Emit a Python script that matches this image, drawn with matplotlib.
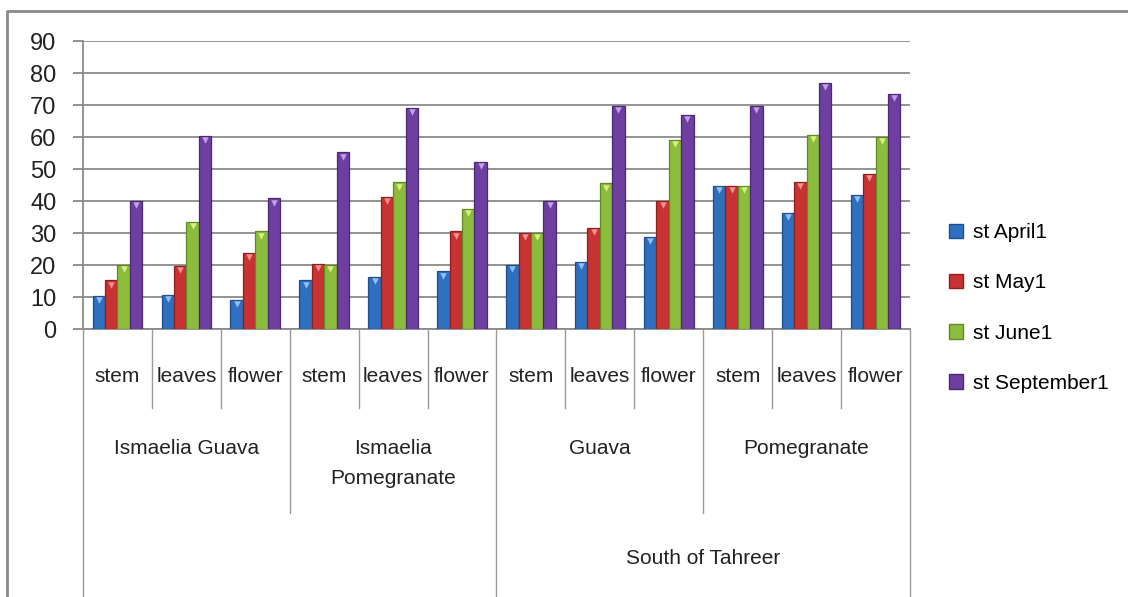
import matplotlib
matplotlib.use("Agg")
import matplotlib.pyplot as plt
import numpy as np
from matplotlib import transforms
from matplotlib.lines import Line2D
from matplotlib.patches import Patch

# data
parts = ["stem", "leaves", "flower"] * 4
groups = ["Ismaelia Guava", "Ismaelia\nPomegranate", "Guava", "Pomegranate"]
regions = ["", "South of Tahreer"]
series = ["st April1", "st May1", "st June1", "st September1"]
april = [10.4, 10.7, 9.0, 15.2, 16.2, 18.0, 20.1, 20.9, 28.9, 44.8, 36.2, 41.9]
may = [15.2, 19.6, 23.9, 20.3, 41.2, 30.5, 30.0, 31.7, 39.9, 44.8, 46.0, 48.5]
june = [20.1, 33.4, 30.5, 20.1, 45.8, 37.6, 30.0, 45.5, 59.1, 44.6, 60.7, 60.1]
september = [40.0, 60.4, 40.8, 55.2, 69.0, 52.2, 39.9, 69.7, 66.9, 69.7, 77.0, 73.4]

colors = ["#2f6fc0", "#c83232", "#8cbc3c", "#6e3fa0"]
edges = ["#1d4f8f", "#8f1f1f", "#5f8a22", "#4a2873"]
tops = ["#8fc0f0", "#f09090", "#d8f080", "#c0a0e8"]

W, H = 1128, 597
fig = plt.figure(figsize=(W / 100, H / 100), dpi=100)
ax = fig.add_axes([83 / W, 1 - 329 / H, (910 - 83) / W, (329 - 41) / H])

x = np.arange(len(parts))
bw = 0.18
for i, vals in enumerate([april, may, june, september]):
    xs = x + (i - 1.5) * bw
    ax.bar(xs, vals, bw, color=colors[i], edgecolor=edges[i],
           linewidth=0.9, label=series[i], zorder=3)
    # little bevel mark at the top of each bar
    ax.scatter(xs, np.array(vals) - 1.3, marker="v", s=22, color=tops[i],
               linewidths=0, zorder=4)

ax.set_xlim(-0.5, len(parts) - 0.5)
ax.set_ylim(0, 90)
ax.set_yticks(range(0, 91, 10))
ax.set_xticks([])
ax.grid(axis="y", color="#8a8a8a", linewidth=1.3, zorder=0)
for s in ["top", "right"]:
    ax.spines[s].set_visible(False)
for s in ["left", "bottom"]:
    ax.spines[s].set_color("#8a8a8a")
    ax.spines[s].set_linewidth(1.3)
ax.tick_params(axis="y", length=7, width=1.3, color="#8a8a8a", pad=12,
               labelsize=17, labelcolor="#222222")
for t in ax.get_yticklabels():
    t.set_fontfamily("Liberation Sans")

tr = transforms.blended_transform_factory(ax.transData, fig.transFigure)
lab_font = dict(family="Liberation Sans", size=15, color="#222222")

# level 1: parts
for k in range(len(parts) + 1):
    pos = k - 0.5
    if k % 6 == 0:
        bottom = 0.0
    elif k % 3 == 0:
        bottom = 1 - 513 / H
    else:
        bottom = 1 - 408 / H
    fig.add_artist(Line2D([pos, pos], [1 - 329 / H, bottom], transform=tr,
                          color="#9a9a9a", linewidth=1.0))
for k, p in enumerate(parts):
    fig.text(k, 1 - 376 / H, p, transform=tr, ha="center", va="center", **lab_font)

# level 2: groups
for g, name in enumerate(groups):
    fig.text(g * 3 + 1, 1 - 439 / H, name, transform=tr, ha="center", va="top",
             linespacing=1.75, **lab_font)

# level 3: regions
for r, name in enumerate(regions):
    fig.text(r * 6 + 2.5, 1 - 559 / H, name, transform=tr, ha="center", va="center",
             **lab_font)

# outer frame
fig.add_artist(Line2D([7 / W, 7 / W, 1.0], [0.0, 1 - 11 / H, 1 - 11 / H],
                      transform=fig.transFigure, color="#8a8a8a", linewidth=2))

handles = [Patch(facecolor=colors[i], edgecolor=edges[i]) for i in range(4)]
fig.legend(handles, series, loc="center left", bbox_to_anchor=(930 / W, 1 - 308 / H),
           frameon=False, handlelength=0.7, handleheight=0.7, handletextpad=0.45,
           labelspacing=1.5, prop=dict(family="Liberation Sans", size=15))

fig.savefig("out.png", dpi=100)
